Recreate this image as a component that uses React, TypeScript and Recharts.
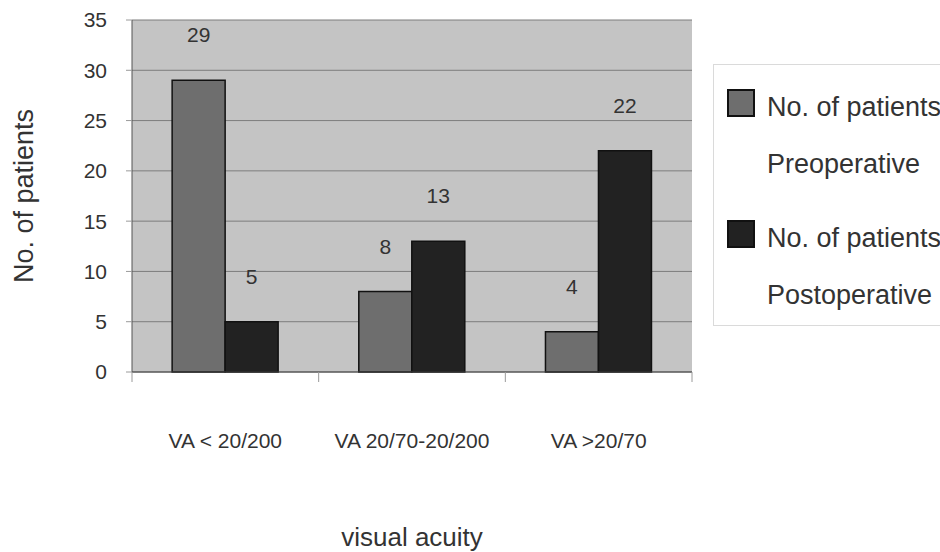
import React from 'react';
import {
  BarChart,
  Bar,
  XAxis,
  YAxis,
  CartesianGrid,
  Legend,
  LabelList,
  Label
} from 'recharts';

const categories = ['VA < 20/200', 'VA 20/70-20/200', 'VA >20/70'];
const preoperative = [29, 8, 4];
const postoperative = [5, 13, 22];
const yTicks = [0, 5, 10, 15, 20, 25, 30, 35];

const seriesKeys = ['pre', 'post'];
const seriesTitles = ['No. of patients', 'No. of patients'];
const seriesSubtitles = ['Preoperative', 'Postoperative'];
const seriesColors = ['#6e6e6e', '#222222'];

const data = categories.map((name, i) => ({
  name,
  pre: preoperative[i],
  post: postoperative[i]
}));

const FONT = '"Liberation Sans", Arial, sans-serif';
const TEXT = '#333333';

const CategoryTick = (props: any) => {
  const { x, y, payload, index } = props;
  const half = payload.offset ?? 0;
  return (
    <g>
      <line x1={x - half} x2={x - half} y1={y} y2={y + 10} stroke="#9a9a9a" />
      {index === categories.length - 1 && (
        <line x1={x + half} x2={x + half} y1={y} y2={y + 10} stroke="#9a9a9a" />
      )}
      <text x={x} y={y + 76} textAnchor="middle" fontSize={21} fill={TEXT} fontFamily={FONT}>
        {payload.value}
      </text>
    </g>
  );
};

const LegendBox = () => (
  <svg width={260} height={262} style={{ display: 'block' }}>
    <rect x={0.5} y={0.5} width={258} height={261} fill="#ffffff" stroke="#b5b5b5" strokeDasharray="1 1" />
    {seriesKeys.map((key, i) => (
      <g key={key} transform={`translate(0, ${i * 131})`}>
        <rect x={15} y={26} width={26} height={26} fill={seriesColors[i]} stroke="#111" strokeWidth={2} />
        <text x={54} y={52} fontSize={27} fill={TEXT} fontFamily={FONT}>{seriesTitles[i]}</text>
        <text x={54} y={109} fontSize={27} fill={TEXT} fontFamily={FONT}>{seriesSubtitles[i]}</text>
      </g>
    ))}
  </svg>
);

const YLabel = (props: any) => {
  const { viewBox } = props;
  const cy = viewBox.y + viewBox.height / 2;
  return (
    <text
      x={33}
      y={cy}
      transform={`rotate(-90, 33, ${cy})`}
      textAnchor="middle"
      fontSize={27}
      fill={TEXT}
      fontFamily={FONT}
    >
      No. of patients
    </text>
  );
};

const XLabel = (props: any) => {
  const { viewBox } = props;
  return (
    <text
      x={viewBox.x + viewBox.width / 2}
      y={546}
      textAnchor="middle"
      fontSize={26}
      fill={TEXT}
      fontFamily={FONT}
    >
      visual acuity
    </text>
  );
};

export default function App() {
  return (
    <div style={{ position: 'absolute', left: 0, top: 0, width: 940, height: 552, overflow: 'hidden', background: '#fff' }}>
      <BarChart
        width={940}
        height={552}
        data={data}
        margin={{ top: 20, right: 248, left: 92, bottom: 10 }}
        barCategoryGap="21.5%"
        barGap={0}
      >
        <CartesianGrid vertical={false} stroke="#7d7d7d" fill="#c4c4c4" fillOpacity={1} />
        <XAxis
          dataKey="name"
          height={170}
          axisLine={{ stroke: '#444' }}
          tickLine={false}
          tickSize={0}
          tickMargin={0}
          interval={0}
          tick={<CategoryTick />}
        >
          <Label content={<XLabel />} />
        </XAxis>
        <YAxis
          width={40}
          domain={[0, 35]}
          ticks={yTicks}
          interval={0}
          axisLine={{ stroke: '#555' }}
          tickLine={{ stroke: '#9a9a9a' }}
          tickSize={6}
          tickMargin={19}
          tick={{ fontSize: 21, fill: TEXT, fontFamily: FONT }}
        >
          <Label content={<YLabel />} />
        </YAxis>
        <YAxis
          yAxisId="right"
          orientation="right"
          width={0}
          domain={[0, 35]}
          tick={false}
          tickLine={false}
          axisLine={{ stroke: '#555' }}
        />
        <Legend
          layout="horizontal"
          verticalAlign="middle"
          align="center"
          wrapperStyle={{ left: 713, top: 64, width: 260, height: 262 }}
          content={<LegendBox />}
        />
        {seriesKeys.map((key, i) => (
          <Bar
            key={key}
            dataKey={key}
            name={`${seriesTitles[i]} ${seriesSubtitles[i]}`}
            fill={seriesColors[i]}
            stroke="#111"
            strokeWidth={1.5}
            isAnimationActive={false}
          >
            <LabelList
              dataKey={key}
              position="top"
              offset={38}
              fontSize={21}
              fill={TEXT}
              fontFamily={FONT}
            />
          </Bar>
        ))}
      </BarChart>
    </div>
  );
}
